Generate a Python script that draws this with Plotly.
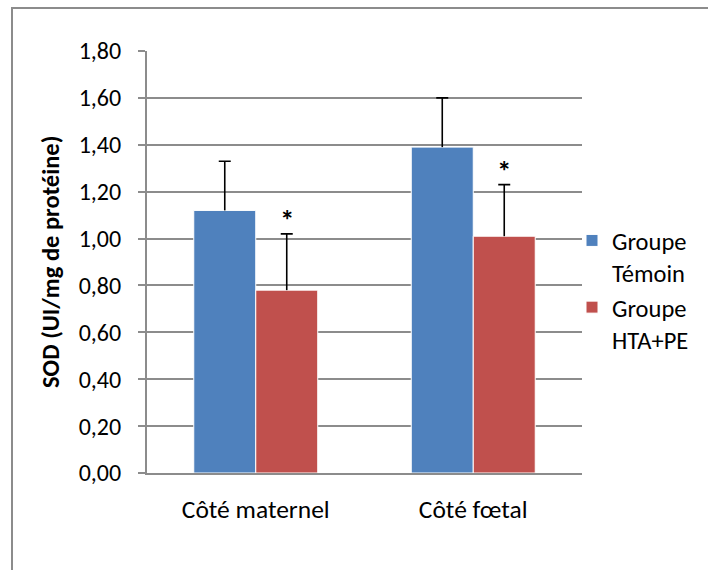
import plotly.graph_objects as go

# SOD activity by placental side and group
categories = ["Côté maternel", "Côté fœtal"]
temoin_mean = [1.12, 1.39]
temoin_sd = [0.21, 0.21]
hta_mean = [0.78, 1.01]
hta_sd = [0.24, 0.22]
series_names = ["Groupe<br>Témoin", "Groupe<br>HTA+PE"]
significance = ["*", "*"]

BLUE = "#4F81BD"
RED = "#C0504D"
GRID = "#8C8C8C"
FONT = "Carlito, Lato, sans-serif"

W, H = 708, 570
ML, MR, MT, MB = 147, 126, 51, 97
pw, ph = W - ML - MR, H - MT - MB

fig = go.Figure()
series = [
    ("g1", series_names[0], temoin_mean, temoin_sd, BLUE),
    ("g2", series_names[1], hta_mean, hta_sd, RED),
]
for grp, name, means, sds, color in series:
    # bar with a plain upper whisker (no caps)
    fig.add_trace(go.Bar(
        x=categories, y=means, name=name, offsetgroup=grp,
        marker=dict(color=color, line=dict(color="white", width=1)),
        error_y=dict(type="data", array=sds, arrayminus=[0] * len(sds),
                     symmetric=False, color="black", thickness=1.6, width=0),
    ))
for grp, name, means, sds, color in series:
    # transparent bar reaching the whisker end, carrying only the top cap
    tops = [m + s for m, s in zip(means, sds)]
    fig.add_trace(go.Bar(
        x=categories, y=tops, offsetgroup=grp, showlegend=False, hoverinfo="skip",
        marker=dict(color="rgba(0,0,0,0)", line=dict(width=0)),
        error_y=dict(type="data", array=[0] * len(tops), arrayminus=[0] * len(tops),
                     symmetric=False, color="black", thickness=1.6, width=6),
    ))

# significance marks above the HTA+PE error bars
for cat, m, s, mark in zip(categories, hta_mean, hta_sd, significance):
    fig.add_annotation(x=cat, y=m + s, text=f"<b>{mark}</b>", showarrow=False,
                       xshift=31, yshift=14, font=dict(size=29, color="black", family=FONT))

fig.add_annotation(xref="paper", yref="paper", x=(51 - ML) / pw, y=0.5,
                   text="<b>SOD (UI/mg de protéine)</b>", textangle=-90, showarrow=False,
                   xanchor="center", yanchor="middle",
                   font=dict(size=24.5, color="black", family=FONT))

# chart-area frame
fig.add_shape(type="rect", xref="paper", yref="paper",
              x0=(12 - ML) / pw, x1=(W + 50 - ML) / pw,
              y0=-(H + 50 - MT - ph) / ph, y1=1 + (MT - 8) / ph,
              line=dict(color="#8C8C8C", width=2), fillcolor="rgba(0,0,0,0)", layer="below")

fig.update_layout(
    width=W, height=H,
    margin=dict(l=ML, r=MR, t=MT, b=MB),
    paper_bgcolor="white", plot_bgcolor="white",
    barmode="group", bargap=0.43, bargroupgap=0.0,
    separators=", ",
    font=dict(family=FONT, size=24, color="black"),
    showlegend=True,
    legend=dict(x=(572 - ML) / pw, xanchor="left", y=(473 - 218) / ph, yanchor="top",
                font=dict(size=24.5), valign="top", tracegroupgap=0,
                bgcolor="rgba(0,0,0,0)"),
    xaxis=dict(showline=True, linecolor=GRID, linewidth=2, ticks="",
               ticklabelstandoff=12,
               tickfont=dict(size=25.5), showgrid=False),
    yaxis=dict(range=[0, 1.8], dtick=0.2, tickformat=".2f",
               showline=True, linecolor=GRID, linewidth=2,
               ticks="outside", ticklen=7, tickcolor=GRID, tickwidth=1.5,
               ticklabelstandoff=12,
               showgrid=True, gridcolor=GRID, gridwidth=1.5,
               zeroline=False, tickfont=dict(size=24)),
)

fig.write_html("out.html")
